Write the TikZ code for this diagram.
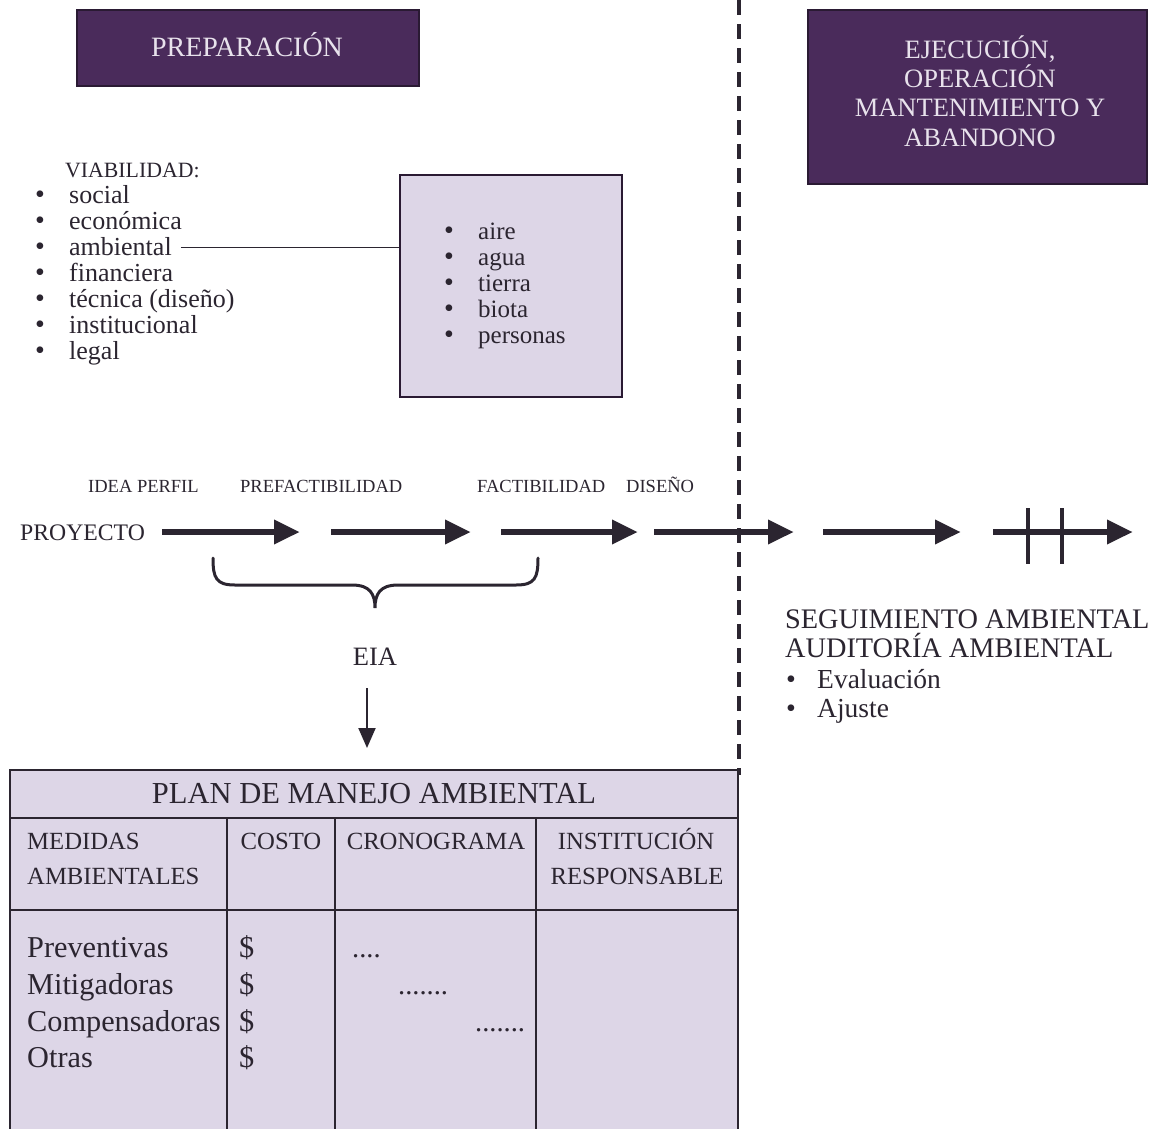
\documentclass[tikz,border=0pt]{standalone}
\usepackage{fontspec}
\setmainfont{Liberation Serif}
\usetikzlibrary{arrows.meta}
\definecolor{dpurple}{HTML}{4A2B5B}
\definecolor{dborder}{HTML}{2A1A33}
\definecolor{lav}{HTML}{DDD6E7}
\definecolor{ink}{HTML}{2B2530}
\definecolor{boxtext}{HTML}{E8E2EC}
\newcommand\fsz[1]{\fontsize{#1}{#1}\selectfont}
\begin{document}
\begin{tikzpicture}[x=1pt,y=-1pt,
  txt/.style={inner sep=0pt, anchor=base west, text=ink},
  ctxt/.style={inner sep=0pt, anchor=base, text=ink},
  wtxt/.style={inner sep=0pt, anchor=base, text=boxtext, font=\fsz{26.5}},
  darkbox/.style={draw=dborder, fill=dpurple, line width=1.5pt, inner sep=0pt},
  lavbox/.style={draw=dborder, fill=lav, line width=1.8pt, inner sep=0pt},
  bul/.style={inner sep=0pt, anchor=base, text=ink, font=\fsz{28}},
  bigarrow/.style={line width=6.5pt, draw=ink, -{Triangle[length=26pt,width=23pt]}},
  tick/.style={line width=4pt, draw=ink},
  dashline/.style={line width=3.5pt, draw=ink, dash pattern=on 15pt off 9pt},
  thinline/.style={line width=1.6pt, draw=ink},
  tab/.style={line width=2.5pt, draw=ink}
]
\useasboundingbox (0,0) rectangle (1157,1128);
\fill[white] (0,0) rectangle (1157,1128);

% dashed divider
\coordinate (dtop) at (739,0);
\coordinate (dbot) at (739,775);
\draw[dashline] (dtop) -- (dbot);

% top boxes
\node[darkbox, minimum width=342, minimum height=76] (prep) at (248,48) {};
\node[wtxt, font=\fsz{28}] (prept) at (247,56) {PREPARACIÓN};
\node[darkbox, minimum width=339, minimum height=174] (ejec) at (977.5,97) {};
\node[wtxt] (e1) at (980,58) {EJECUCIÓN,};
\node[wtxt] (e2) at (980,87) {OPERACIÓN};
\node[wtxt] (e3) at (980,116) {MANTENIMIENTO Y};
\node[wtxt] (e4) at (980,146) {ABANDONO};

% viabilidad list
\node[txt, font=\fsz{21.8}] (viab) at (65,177) {VIABILIDAD:};
\foreach \t/\y/\n in {social/203/1, económica/229/2, ambiental/255/3, financiera/281/4, {técnica (diseño)}/307/5, institucional/333/6, legal/359/7}{
  \node[bul] (vb\n) at (40,\y) {•};
  \node[txt, font=\fsz{26}] (v\n) at (69,\y) {\t};
}

% environment box
\node[lavbox, minimum width=222, minimum height=222] (env) at (511,286) {};
\foreach \t/\y/\n in {aire/239/1, agua/265/2, tierra/291/3, biota/317/4, personas/343/5}{
  \node[bul] (eb\n) at (449,\y) {•};
  \node[txt, font=\fsz{25}] (ei\n) at (478,\y) {\t};
}
\draw[thinline] ([xshift=9pt,yshift=-1.5pt]v3.east) -- ([yshift=-1.5pt]v3.east -| env.west);

% process labels
\node[txt, font=\fsz{18.5}] (l1) at (88,492) {IDEA PERFIL};
\node[txt, font=\fsz{18.5}] (l2) at (240,492) {PREFACTIBILIDAD};
\node[txt, font=\fsz{18.5}] (l3) at (477,492) {FACTIBILIDAD};
\node[txt, font=\fsz{18.5}] (l4) at (626,492) {DISEÑO};
\node[txt, font=\fsz{23.7}] (proy) at (20,540) {PROYECTO};

% arrows
\coordinate (a1s) at (162,532); \coordinate (a1e) at (300,532);
\coordinate (a2s) at (331,532); \coordinate (a2e) at (471,532);
\coordinate (a3s) at (501,532); \coordinate (a3e) at (638,532);
\coordinate (a4s) at (654,532); \coordinate (a4e) at (794,532);
\coordinate (a5s) at (823,532); \coordinate (a5e) at (961,532);
\coordinate (a6s) at (993,532); \coordinate (a6e) at (1133,532);
\draw[bigarrow] (a1s) -- (a1e);
\draw[bigarrow] (a2s) -- (a2e);
\draw[bigarrow] (a3s) -- (a3e);
\draw[bigarrow] (a4s) -- (a4e);
\draw[bigarrow] (a5s) -- (a5e);
\draw[bigarrow] (a6s) -- (a6e);
\coordinate (t1a) at (1028,508); \coordinate (t1b) at (1028,564);
\coordinate (t2a) at (1062,508); \coordinate (t2b) at (1062,564);
\draw[tick] (t1a) -- (t1b);
\draw[tick] (t2a) -- (t2b);

% brace
\draw[line width=3pt, draw=ink, line cap=round]
  (213,558) .. controls (213,578) and (216,585) .. (235,585)
  -- (352,585) .. controls (370,585) and (375,594) .. (375,608)
  .. controls (375,594) and (380,585) .. (398,585)
  -- (516,585) .. controls (535,585) and (538,578) .. (538,558);

% EIA
\node[ctxt, font=\fsz{26.5}] (eia) at (375,665) {EIA};
\coordinate (da1) at (367,688);
\coordinate (da2) at (367,748);
\draw[line width=2pt, draw=ink, -{Triangle[length=20pt,width=17pt]}] (da1) -- (da2);

% seguimiento
\node[txt, font=\fsz{28.3}] (s1) at (785,628) {SEGUIMIENTO AMBIENTAL};
\node[txt, font=\fsz{28.3}] (s2) at (785,657) {AUDITORÍA AMBIENTAL};
\node[bul] (sb1) at (791,688) {•};
\node[txt, font=\fsz{27.5}] (s3) at (817,688) {Evaluación};
\node[bul] (sb2) at (791,717) {•};
\node[txt, font=\fsz{27.5}] (s4) at (817,717) {Ajuste};

% table
\fill[lav] (10,770) rectangle (738,1140);
\draw[tab] (10,1140) -- (10,770) -- (738,770) -- (738,1140);
\draw[tab] (10,818) -- (738,818);
\draw[tab] (10,910) -- (738,910);
\draw[tab] (227,818) -- (227,1140);
\draw[tab] (335,818) -- (335,1140);
\draw[tab] (536,818) -- (536,1140);
\node[ctxt, font=\fsz{30.5}] (ptitle) at (374,803) {PLAN DE MANEJO AMBIENTAL};
\node[txt, font=\fsz{24.7}] (h1a) at (27,849) {MEDIDAS};
\node[txt, font=\fsz{24.7}] (h1b) at (27,884) {AMBIENTALES};
\node[ctxt, font=\fsz{24.7}] (h2) at (281,849) {COSTO};
\node[ctxt, font=\fsz{24.7}] (h3) at (436,849) {CRONOGRAMA};
\node[ctxt, font=\fsz{24.7}] (h4a) at (636,849) {INSTITUCIÓN};
\node[ctxt, font=\fsz{24.7}] (h4b) at (637,884) {RESPONSABLE};
\foreach \t/\y/\n in {Preventivas/957/1, Mitigadoras/994/2, Compensadoras/1031/3, Otras/1067/4}{
  \node[txt, font=\fsz{30.3}] (m\n) at (27,\y) {\t};
  \node[txt, font=\fsz{30.3}] (c\n) at (239,\y) {\$};
}
\node[txt, font=\fsz{28.5}] (d1) at (352,957) {....};
\node[txt, font=\fsz{28.5}] (d2) at (398,994) {.......};
\node[txt, font=\fsz{28.5}] (d3) at (475,1031) {.......};
\end{tikzpicture}
\end{document}
